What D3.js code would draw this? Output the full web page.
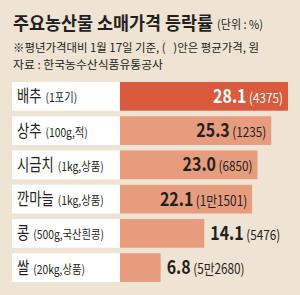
<!DOCTYPE html>
<html>
<head>
<meta charset="utf-8">
<script src="https://cdn.jsdelivr.net/npm/d3@7"></script>
<style>
  html, body { margin: 0; padding: 0; background: #efe4d3; }
  svg { display: block; font-family: "Noto Sans CJK KR", "Noto Sans", sans-serif; }
</style>
</head>
<body>
<svg id="chart"></svg>
<script>
// 주요농산물 소매가격 등락률 (평년 대비, %)
var categories = ["배추", "상추", "시금치", "깐마늘", "콩", "쌀"];
var units = ["(1포기)", "(100g,적)", "(1kg,상품)", "(1kg,상품)", "(500g,국산흰콩)", "(20kg,상품)"];
var rates = [28.1, 25.3, 23.0, 22.1, 14.1, 6.8];
var prices = ["4375", "1235", "6850", "1만1501", "5476", "5만2680"];

var width = 300, height = 295;

var svg = d3.select("#chart").attr("width", width).attr("height", height);

svg.append("rect")
    .attr("width", width).attr("height", height)
    .attr("fill", "#efe4d3");

// header - squeezed to the widths of the printed original
svg.append("text")
    .attr("x", 13).attr("y", 30)
    .attr("font-size", 18).attr("font-weight", 700).attr("fill", "#231f20")
    .attr("textLength", 200).attr("lengthAdjust", "spacingAndGlyphs")
    .text("주요농산물 소매가격 등락률");

svg.append("text")
    .attr("x", 217).attr("y", 29)
    .attr("font-size", 12).attr("fill", "#231f20")
    .attr("textLength", 46).attr("lengthAdjust", "spacingAndGlyphs")
    .text("(단위 : %)");

svg.append("text")
    .attr("x", 13).attr("y", 52)
    .attr("font-size", 11.5).attr("fill", "#231f20")
    .attr("textLength", 246).attr("lengthAdjust", "spacingAndGlyphs")
    .style("white-space", "pre")
    .text("※평년가격대비 1월 17일 기준, (\u00a0\u00a0\u00a0)안은 평균가격, 원");

svg.append("text")
    .attr("x", 13).attr("y", 69)
    .attr("font-size", 11.5).attr("fill", "#231f20")
    .attr("textLength", 150).attr("lengthAdjust", "spacingAndGlyphs")
    .text("자료 : 한국농수산식품유통공사");

// scales
var x = d3.scaleLinear().domain([0, 28.1]).range([120, 288]);
var y = d3.scaleBand().domain(categories).range([82, 282]).paddingInner(0.162).paddingOuter(0);

var rows = svg.selectAll("g.row")
    .data(categories.map(function(c, i) {
        return { cat: c, unit: units[i], rate: rates[i], price: prices[i], i: i };
    }))
    .enter().append("g")
    .attr("class", "row")
    .attr("transform", function(d) { return "translate(0," + y(d.cat) + ")"; });

// white label box
rows.append("rect")
    .attr("x", 12).attr("width", 108)
    .attr("height", y.bandwidth())
    .attr("fill", "#ffffff");

rows.append("rect")
    .attr("x", x(0))
    .attr("width", function(d) { return x(d.rate) - x(0); })
    .attr("height", y.bandwidth())
    .attr("fill", function(d) { return d.i === 0 ? "#d95a3c" : "#e79c7e"; });

var baseY = y.bandwidth() / 2 + 6;
var catScale = 0.76, unitScale = 0.86;

// category name, then the unit placed right after it
rows.each(function(d) {
    var g = d3.select(this);
    var name = g.append("text")
        .attr("transform", "translate(17," + baseY + ") scale(" + catScale + ",1)")
        .attr("font-size", 17.5).attr("fill", "#231f20")
        .text(d.cat);
    var w = name.node().getComputedTextLength() * catScale;
    g.append("text")
        .attr("transform", "translate(" + (17 + w + 4) + "," + baseY + ") scale(" + unitScale + ",1)")
        .attr("font-size", 12).attr("fill", "#231f20")
        .text(d.unit);
});

var inside = function(d) { return d.rate > 20; };

var val = rows.append("text")
    .attr("transform", function(d) {
        var tx = inside(d) ? x(d.rate) - 5 : x(d.rate) + 6;
        return "translate(" + tx + "," + (baseY + 0.5) + ") scale(0.84,1)";
    })
    .attr("text-anchor", function(d) { return inside(d) ? "end" : "start"; })
    .attr("fill", function(d) { return d.i === 0 ? "#ffffff" : "#231f20"; });
val.append("tspan").attr("font-size", 19).attr("font-weight", 700)
    .text(function(d) { return d3.format(".1f")(d.rate); });
val.append("tspan").attr("font-size", 14).attr("dx", 3)
    .text(function(d) { return "(" + d.price + ")"; });
</script>
</body>
</html>
